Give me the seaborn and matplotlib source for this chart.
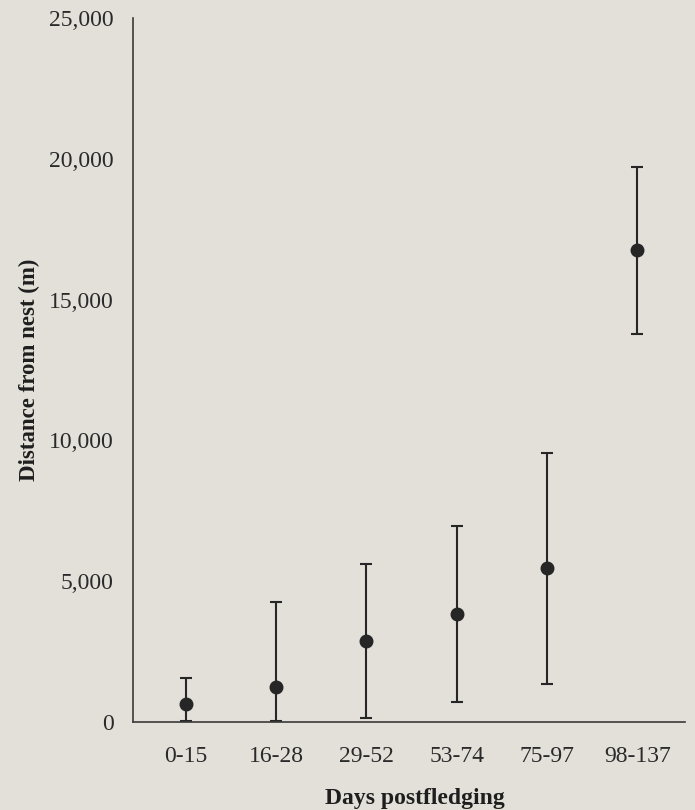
import numpy as np
import pandas as pd
import seaborn as sns
import matplotlib
matplotlib.use("Agg")
import matplotlib.pyplot as plt
from matplotlib.ticker import FuncFormatter, MultipleLocator

categories = ["0-15", "16-28", "29-52", "53-74", "75-97", "98-137"]
mean_dist = [640, 1240, 2870, 3830, 5460, 16740]
lower_dist = [20, 20, 140, 710, 1350, 13760]
upper_dist = [1560, 4250, 5600, 6950, 9540, 19720]

bg = "#e3e0da"
ink = "#262626"

sns.set_theme(style="white")
plt.rcParams["font.family"] = ["Liberation Serif", "DejaVu Serif"]

df = pd.DataFrame({"period": categories, "dist": mean_dist})

fig = plt.figure(figsize=(6.95, 8.10), dpi=100, facecolor=bg)
ax = fig.add_axes([0.1914, 0.1086, 0.7942, 0.8694])
ax.set_facecolor(bg)

sns.pointplot(data=df, x="period", y="dist", order=categories,
              linestyle="none", errorbar=None, color=ink,
              markers="o", markersize=8, ax=ax, zorder=3)

means = np.array(mean_dist)
yerr = [means - np.array(lower_dist), np.array(upper_dist) - means]
ax.errorbar(np.arange(len(categories)), means, yerr=yerr, fmt="none",
            ecolor=ink, elinewidth=1.5, capsize=4.5, capthick=1.5, zorder=2)

ax.set_ylim(0, 25000)
ax.set_xlim(-0.587, 5.53)
ax.yaxis.set_major_locator(MultipleLocator(5000))
ax.yaxis.set_major_formatter(FuncFormatter(lambda v, p: f"{int(v):,}"))

for s in ["top", "right"]:
    ax.spines[s].set_visible(False)
for s in ["left", "bottom"]:
    ax.spines[s].set_color("#3a3a3a")
    ax.spines[s].set_linewidth(1.2)

ax.tick_params(axis="y", length=0, pad=14, labelsize=17, labelcolor="#2a2a2a")
ax.tick_params(axis="x", length=0, pad=17, labelsize=17, labelcolor="#2a2a2a")

ax.set_xlabel("Days postfledging", fontsize=17, fontweight="bold", color="#1e1e1e")
ax.xaxis.set_label_coords(0.51, -0.093)
ax.set_ylabel("Distance from nest (m)", fontsize=16.5, fontweight="bold", color="#1e1e1e", labelpad=6)
ax.grid(False)

fig.savefig("out.png", dpi=100, facecolor=bg)
